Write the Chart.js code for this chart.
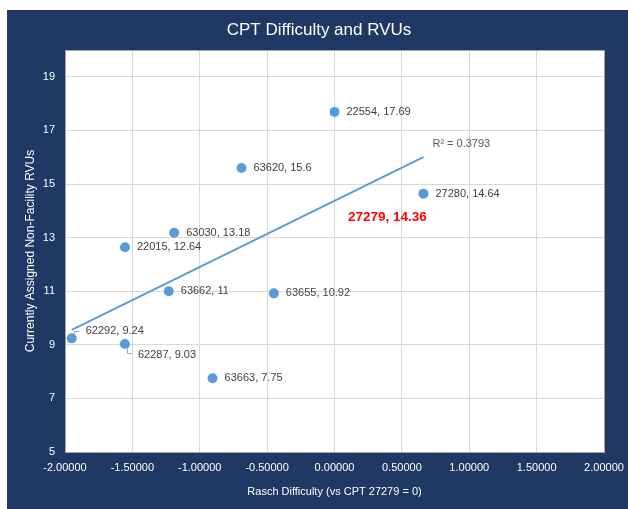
<!DOCTYPE html>
<html>
<head>
<meta charset="utf-8">
<script src="https://cdn.jsdelivr.net/npm/chart.js@4"></script>
<style>
  html, body { margin: 0; padding: 0; background: #ffffff; }
  canvas { display: block; }
</style>
</head>
<body>
<canvas id="c" width="628" height="509"></canvas>
<script>
// ---- Data ----
const codes = ["22554", "63620", "27280", "63030", "22015", "63662", "63655", "62292", "62287", "63663", "27279"];
const difficulty = [0.0, -0.69, 0.66, -1.19, -1.555, -1.23, -0.45, -1.95, -1.555, -0.905, 0.0];
const rvus = [17.69, 15.6, 14.64, 13.18, 12.64, 11, 10.92, 9.24, 9.03, 7.75, 14.36];
const highlightCode = "27279";
const trendX = [-1.95, 0.66];
const trendY = [9.56, 16.0];
const rSquaredLabel = "R² = 0.3793";
const xTicks = [-2, -1.5, -1, -0.5, 0, 0.5, 1, 1.5, 2];
const yTicks = [5, 7, 9, 11, 13, 15, 17, 19];
const chartTitle = "CPT Difficulty and RVUs";
const xTitle = "Rasch Difficulty (vs CPT 27279 = 0)";
const yTitle = "Currently Assigned Non-Facility RVUs";

// ---- Styles ----
const NAVY = "#1F3864";
const BLUE = "#5B9BD5";
const FONT = "'Liberation Sans', Arial, sans-serif";
Chart.defaults.font.family = FONT;

// label placement (layout only)
const labelOffsets = {
  "62292": { dx: 14, dy: -7, leader: [[2.5, -4], [2.5, -7], [7, -7]] },
  "62287": { dx: 13, dy: 10.5, leader: [[2.3, 4], [2.3, 9.5], [7.5, 9.5]] },
  "27279": { dx: 13.5, dy: 16 }
};

const points = codes.map((c, i) => ({ x: difficulty[i], y: rvus[i] }));
const trend = trendX.map((x, i) => ({ x: x, y: trendY[i] }));

const bgPlugin = {
  id: "bg",
  beforeDraw(chart) {
    const { ctx, chartArea: a } = chart;
    ctx.save();
    ctx.fillStyle = "#ffffff";
    ctx.fillRect(0, 0, chart.width, chart.height);
    ctx.fillStyle = NAVY;
    ctx.fillRect(7, 10, chart.width - 7, chart.height - 10);
    ctx.fillStyle = "#ffffff";
    ctx.fillRect(a.left, a.top, a.right - a.left, a.bottom - a.top);
    // chart title
    ctx.fillStyle = "#ffffff";
    ctx.font = "17px " + FONT;
    ctx.textAlign = "center";
    ctx.textBaseline = "middle";
    ctx.fillText(chartTitle, 319, 30);
    ctx.restore();
  },
  beforeDatasetsDraw(chart) {
    const { ctx, chartArea: a } = chart;
    ctx.save();
    ctx.strokeStyle = "#A6A6A6";
    ctx.lineWidth = 1;
    ctx.strokeRect(Math.round(a.left) + 0.5, Math.round(a.top) + 0.5,
                   Math.round(a.right - a.left), Math.round(a.bottom - a.top));
    ctx.restore();
  }
};

const labelPlugin = {
  id: "labels",
  afterDatasetsDraw(chart) {
    const { ctx } = chart;
    const xs = chart.scales.x, ys = chart.scales.y;
    ctx.save();
    ctx.textBaseline = "middle";
    ctx.textAlign = "left";
    codes.forEach((c, i) => {
      const px = xs.getPixelForValue(difficulty[i]);
      const py = ys.getPixelForValue(rvus[i]);
      const off = labelOffsets[c] || { dx: 12, dy: 0 };
      if (off.leader) {
        ctx.strokeStyle = "#A6A6A6";
        ctx.lineWidth = 1;
        ctx.beginPath();
        off.leader.forEach((p, k) => {
          const lx = Math.round(px + p[0]) + 0.5, ly = Math.round(py + p[1]) + 0.5;
          if (k === 0) ctx.moveTo(lx, ly); else ctx.lineTo(lx, ly);
        });
        ctx.stroke();
      }
      if (c === highlightCode) {
        ctx.fillStyle = "#FF0000";
        ctx.font = "bold 13.5px " + FONT;
      } else {
        ctx.fillStyle = "#404040";
        ctx.font = "11px " + FONT;
      }
      ctx.fillText(c + ", " + rvus[i], px + off.dx, py + off.dy);
    });
    // R² label near trendline end
    const ex = xs.getPixelForValue(trendX[1]);
    const ey = ys.getPixelForValue(trendY[1]);
    ctx.fillStyle = "#595959";
    ctx.font = "11px " + FONT;
    ctx.fillText(rSquaredLabel, ex + 9, ey - 13);
    ctx.restore();
  }
};

new Chart(document.getElementById("c"), {
  type: "scatter",
  data: {
    datasets: [
      {
        label: "RVUs",
        data: points,
        order: 1,
        backgroundColor: BLUE,
        borderColor: BLUE,
        pointRadius: codes.map(c => c === highlightCode ? 0 : 5),
        pointHoverRadius: 5,
        borderWidth: 0
      },
      {
        label: "Trend",
        type: "line",
        data: trend,
        order: 2,
        showLine: true,
        borderColor: BLUE,
        borderWidth: 2,
        pointRadius: 0,
        fill: false
      }
    ]
  },
  plugins: [bgPlugin, labelPlugin],
  options: {
    responsive: false,
    animation: false,
    events: [],
    layout: { padding: { left: 0, right: 24, top: 50, bottom: 0 } },
    plugins: {
      legend: { display: false },
      tooltip: { enabled: false },
      title: { display: false }
    },
    scales: {
      x: {
        type: "linear",
        min: -2,
        max: 2,
        afterBuildTicks(s) { s.ticks = xTicks.map(v => ({ value: v })); },
        afterFit(s) { s.height = 57; s.paddingLeft = 0; s.paddingRight = 0; },
        grid: { color: "#D9D9D9", drawTicks: false },
        border: { display: false },
        ticks: {
          color: "#ffffff",
          font: { size: 11 },
          padding: 9,
          autoSkip: false,
          maxRotation: 0,
          callback: v => Number(v).toFixed(5)
        },
        title: {
          display: true,
          text: xTitle,
          color: "#ffffff",
          font: { size: 11 },
          padding: { top: 0, bottom: 10 }
        }
      },
      y: {
        type: "linear",
        min: 5,
        max: 20,
        afterBuildTicks(s) { s.ticks = yTicks.map(v => ({ value: v })); },
        afterFit(s) { s.width = 65; s.paddingTop = 0; s.paddingBottom = 0; },
        grid: { color: "#D9D9D9", drawTicks: false },
        border: { display: false },
        ticks: {
          color: "#ffffff",
          font: { size: 11 },
          padding: 10,
          autoSkip: false,
          callback: v => String(v)
        },
        title: {
          display: true,
          text: yTitle,
          color: "#ffffff",
          font: { size: 12 },
          padding: { top: 23, bottom: 0 }
        }
      }
    }
  }
});
</script>
</body>
</html>
